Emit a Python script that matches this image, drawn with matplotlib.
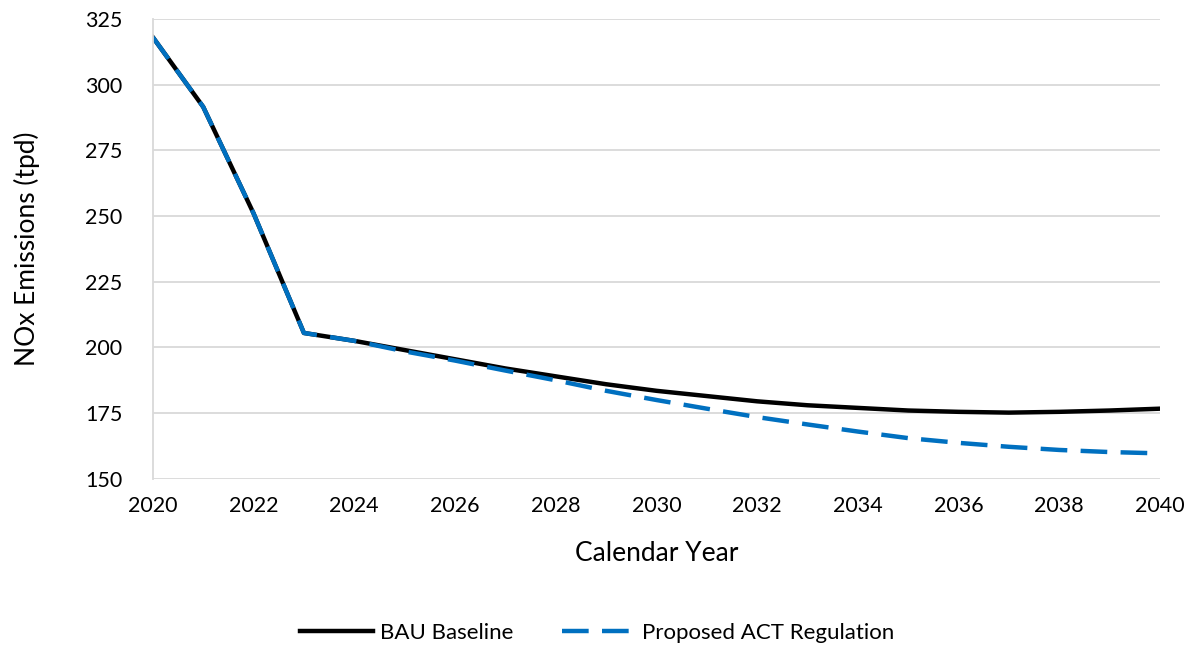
import numpy as np
import matplotlib.pyplot as plt

plt.rcParams['font.family'] = ['Lato', 'DejaVu Sans']

# --- Data ---
years = np.arange(2020, 2041)
bau_baseline = [318, 291.5, 251, 205.5, 202.5, 199, 195.5, 192, 189, 186,
                183.5, 181.5, 179.5, 178, 177, 176, 175.5, 175.2, 175.5, 176, 176.7]
act_regulation = [318, 291.5, 251, 205.5, 202.5, 198.5, 195, 191.2, 187.5, 183.5,
                  180, 176.7, 173.5, 170.7, 168, 165.5, 163.7, 162.2, 161, 160.2, 159.7]

fig = plt.figure(figsize=(11.94, 6.48), dpi=100)
ax = fig.add_axes([0.128, 0.261, 0.8435, 0.71])

ax.plot(years, bau_baseline, color='black', linewidth=3.2, label='BAU Baseline')
ax.plot(years, act_regulation, color='#0070C0', linewidth=3.2,
        dashes=(6, 3), label='Proposed ACT Regulation')

ax.set_xlim(2020, 2040)
ax.set_ylim(150, 325)
ax.set_xticks(np.arange(2020, 2041, 2))
ax.set_yticks(np.arange(150, 326, 25))
ax.grid(axis='y', color='#D9D9D9', linewidth=1.3)
ax.set_axisbelow(True)
for s in ['top', 'right', 'bottom']:
    ax.spines[s].set_visible(False)
ax.spines['left'].set_color('#D9D9D9')
ax.spines['left'].set_linewidth(1.3)
ax.tick_params(axis='y', length=0, labelsize=15.5, pad=22)
ax.tick_params(axis='x', length=0, labelsize=15.5, pad=12)

ax.set_xlabel('Calendar Year', fontsize=19, labelpad=18)
ax.set_ylabel('NOx Emissions (tpd)', fontsize=19, labelpad=32)

fig.legend(loc='center', bbox_to_anchor=(0.5, 0.023), ncol=2, frameon=False,
           fontsize=16, handlelength=3.3, handletextpad=0.3, columnspacing=2.2)

fig.savefig('out.png', dpi=100)
